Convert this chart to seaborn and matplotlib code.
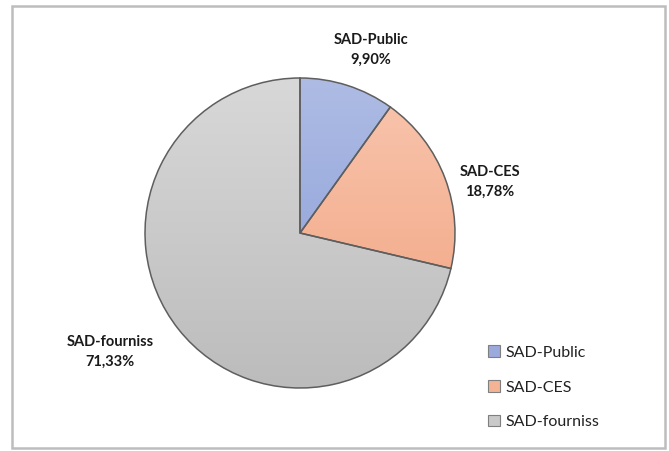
import numpy as np
import matplotlib
matplotlib.use("Agg")
import matplotlib.pyplot as plt
from matplotlib.patches import Patch, Rectangle
import seaborn as sns

# data
categories = ["SAD-Public", "SAD-CES", "SAD-fourniss"]
shares = [9.90, 18.78, 71.33]
pct_labels = ["9,90%", "18,78%", "71,33%"]

# top / bottom colours of the Excel-style gradient fill
top_colors = ["#AEBCE4", "#F8C6AF", "#D8D8D8"]
bottom_colors = ["#8599D6", "#F2A17D", "#BCBCBC"]
mid_colors = ["#9AAADD", "#F5B396", "#C9C9C9"]

sns.set_theme(style="white")
plt.rcParams["font.family"] = ["Lato", "DejaVu Sans"]

W, H = 669, 451
fig = plt.figure(figsize=(W / 100, H / 100), dpi=100)
ax = fig.add_axes([0, 0, 1, 1])
ax.set_xlim(0, W)
ax.set_ylim(0, H)
ax.axis("off")

cx, cy, r = 300, H - 233, 155
wedges, _ = ax.pie(shares, startangle=90, counterclock=False,
                   center=(cx, cy), radius=r,
                   wedgeprops=dict(edgecolor="#5E5E5E", linewidth=1.1))
ax.set_xlim(0, W)
ax.set_ylim(0, H)

# gradient fill clipped to every wedge
grad = np.linspace(0, 1, 256).reshape(-1, 1)
for w, c0, c1 in zip(wedges, top_colors, bottom_colors):
    a = np.array(matplotlib.colors.to_rgb(c0))
    b = np.array(matplotlib.colors.to_rgb(c1))
    img = a[None, None, :] * (1 - grad[:, :, None]) + b[None, None, :] * grad[:, :, None]
    im = ax.imshow(img, extent=(cx - r, cx + r, cy - r, cy + r), origin="upper",
                   aspect="auto", zorder=0.5)
    im.set_clip_path(w)
    w.set_facecolor("none")
    w.set_zorder(1)

# data labels (Excel "best fit" positions)
label_pos = [(371, 50), (490, 182), (110, 352)]
for (lx, ly), name, pct in zip(label_pos, categories, pct_labels):
    ax.text(lx, H - ly, f"{name}\n{pct}", ha="center", va="center",
            fontsize=10.5, fontweight="bold", color="#1A1A1A", linespacing=1.5)

handles = [Patch(facecolor=c, edgecolor="#7F7F7F", linewidth=0.8) for c in mid_colors]
fig.legend(handles, categories, loc="upper left", bbox_to_anchor=(474 / W, 1 - 331 / H),
           frameon=False, fontsize=11.5, labelspacing=1.3, handlelength=0.7,
           handleheight=0.7, handletextpad=0.4, labelcolor="#222222")

fig.patches.append(Rectangle((12 / W, 1 - 448 / H), 653 / W, 442 / H,
                             transform=fig.transFigure, fill=False,
                             edgecolor="#BDBDBD", linewidth=1.8))

fig.savefig("out.png", dpi=100)
